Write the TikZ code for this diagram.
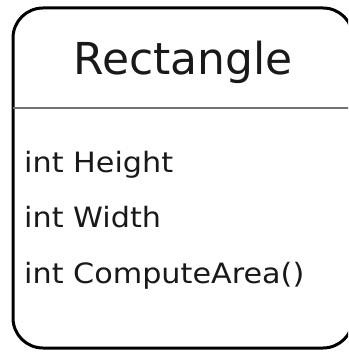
\documentclass[tikz,border=0pt]{standalone}
\usepackage{fontspec}
\setmainfont{DejaVu Sans}
\newfontfamily\memberfont[FakeStretch=1.08]{DejaVu Sans}
\usetikzlibrary{positioning}

\begin{document}
\begin{tikzpicture}[x=1pt, y=-1pt,
        member/.style={anchor=base west, inner sep=0pt, font=\memberfont\fontsize{28}{28}\selectfont, text=black!90}]
        \useasboundingbox (0, 0) rectangle (348, 352);
        \clip (0, 0) rectangle (348, 352);
        % class box, right side runs off the edge
        \draw[line width=3pt, rounded corners=30pt] (13, 8) rectangle (353, 348);
        \draw[line width=2pt, black!55] (13, 108) -- (353, 108);
        \node[anchor=base, inner sep=0pt, font=\fontsize{44}{44}\selectfont, text=black!90] (title) at (183, 75) {Rectangle};
        \node[member] (height) at (24, 172) {int Height};
        \node[member] (width) at (24, 227) {int Width};
        \node[member] (area) at (24, 283) {int ComputeArea()};
\end{tikzpicture}
\end{document}
